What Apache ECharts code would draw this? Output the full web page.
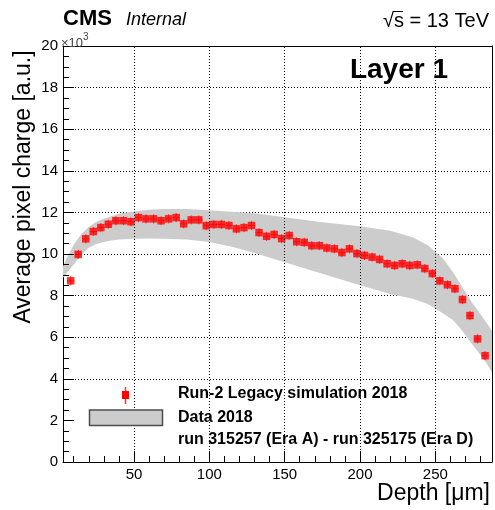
<!DOCTYPE html>
<html><head><meta charset="utf-8">
<script src="https://cdn.jsdelivr.net/npm/echarts@6/dist/echarts.min.js"></script>
<style>html,body{margin:0;padding:0;background:#fff}#c{width:495px;height:510px}</style>
</head><body><div id="c"></div>
<script>
// ---- data (charge in units of 10^3 a.u.) ----
const depth = [8,13,18,23,28,33,38,43,48,53,58,63,68,73,78,83,88,93,98,103,108,113,118,123,128,133,138,143,148,153,158,163,168,173,178,183,188,193,198,203,208,213,218,223,228,233,238,243,248,253,258,263,268,273,278,283];
const simCharge = [8.71,9.98,10.73,11.08,11.27,11.43,11.60,11.60,11.55,11.75,11.69,11.69,11.60,11.69,11.75,11.45,11.64,11.64,11.36,11.42,11.42,11.37,11.21,11.27,11.37,11.03,10.85,10.94,10.74,10.89,10.59,10.56,10.40,10.40,10.29,10.25,10.07,10.25,10.02,9.93,9.85,9.74,9.53,9.45,9.53,9.45,9.48,9.30,9.06,8.71,8.52,8.33,7.81,7.04,5.92,5.11];
const simErr = 0.22;     // vertical error half-size
const binHalf = 2.5;     // half bin width (um)
const bandDepth = [2.9,5,10,15,20,25,30,35,40,50,60,70,85,100,115,130,150,175,200,220,235,245,255,262,268,274,280,284,287.6];
const bandUpper = [9.4,9.75,10.45,10.95,11.3,11.55,11.7,11.82,11.93,12.05,12.13,12.16,12.16,12.1,12.03,11.96,11.77,11.53,11.34,11.12,10.8,10.42,9.8,9.1,8.4,7.7,7.1,6.7,6.3];
const bandLower = [8.86,9.05,9.5,9.95,10.3,10.48,10.58,10.65,10.7,10.73,10.74,10.73,10.7,10.58,10.35,10.05,9.6,9.05,8.5,8.08,7.85,7.6,7.15,6.8,6.3,5.7,5.15,4.75,4.3];
const xMajor = [50,100,150,200,250];
const xMinor = [10,20,30,40,60,70,80,90,110,120,130,140,160,170,180,190,210,220,230,240,260,270,280];
const xMin = 2.9, xMax = 287.6;
const yMin = 0, yMax = 20, yStep = 2;

const FONT = 'Liberation Sans, Arial, Helvetica, sans-serif';
const chart = echarts.init(document.getElementById('c'), null, {renderer:'canvas'});
const gridRect = {left:63, right:3, top:46, bottom:48, outerBoundsMode:'none'};

const option = {
  animation:false,
  textStyle:{fontFamily:FONT},
  grid:[Object.assign({}, gridRect), Object.assign({}, gridRect)],
  xAxis:[
    {type:'value', gridIndex:0, position:'bottom', min:xMin, max:xMax, z:5,
     axisLine:{show:true, onZero:false, lineStyle:{color:'#000', width:1}},
     axisTick:{show:true, inside:true, length:11, customValues:xMajor, lineStyle:{color:'#000'}},
     axisLabel:{show:true, customValues:xMajor, fontSize:15, color:'#000', margin:5, fontFamily:FONT},
     splitLine:{show:false}},
    {type:'value', gridIndex:1, position:'bottom', min:xMin, max:xMax, z:5,
     axisLine:{show:false},
     axisTick:{show:true, inside:true, length:6, customValues:xMinor, lineStyle:{color:'#000'}},
     axisLabel:{show:false}, splitLine:{show:false}},
    {type:'value', gridIndex:1, position:'top', min:xMin, max:xMax, z:5,
     axisLine:{show:true, onZero:false, lineStyle:{color:'#000', width:1}},
     axisTick:{show:false}, axisLabel:{show:false}, splitLine:{show:false}}
  ],
  yAxis:[
    {type:'value', gridIndex:0, position:'left', min:yMin, max:yMax, interval:yStep, z:0,
     axisLine:{show:true, onZero:false, lineStyle:{color:'#000', width:1}},
     axisTick:{show:false},
     axisLabel:{show:true, fontSize:15, color:'#000', margin:5, fontFamily:FONT},
     splitLine:{show:true, showMinLine:false, showMaxLine:false, lineStyle:{color:'#000', width:1, type:[1,2]}}},
    {type:'value', gridIndex:1, position:'left', min:yMin, max:yMax, interval:yStep, z:5,
     axisLine:{show:false},
     axisTick:{show:true, inside:true, length:11, lineStyle:{color:'#000'}},
     minorTick:{show:true, splitNumber:4, length:6, lineStyle:{color:'#000'}},
     axisLabel:{show:false}, splitLine:{show:false}},
    {type:'value', gridIndex:1, position:'right', min:yMin, max:yMax, interval:yStep, z:5,
     axisLine:{show:true, onZero:false, lineStyle:{color:'#000', width:1}},
     axisTick:{show:false}, axisLabel:{show:false}, splitLine:{show:false}}
  ],
  series:[
    { // vertical gridlines
      type:'line', xAxisIndex:0, yAxisIndex:0, z:1, data:[], silent:true,
      markLine:{silent:true, symbol:['none','none'], label:{show:false}, animation:false,
        lineStyle:{color:'#000', width:1, type:[1,2]},
        data: xMajor.map(v=>({xAxis:v}))}
    },
    { // data band
      type:'custom', xAxisIndex:0, yAxisIndex:0, z:2, silent:true, clip:true,
      data:[[bandDepth[0], bandUpper[0]]],
      renderItem:(params, api)=>{
        const pts=[];
        for(let i=0;i<bandDepth.length;i++) pts.push(api.coord([bandDepth[i], bandUpper[i]]));
        for(let i=bandDepth.length-1;i>=0;i--) pts.push(api.coord([bandDepth[i], bandLower[i]]));
        return {type:'polygon', shape:{points:pts}, style:{fill:'#cccccc', stroke:null}};
      }
    },
    { // error bars
      type:'custom', xAxisIndex:0, yAxisIndex:0, z:3, silent:true,
      data: depth.map((d,i)=>[d, simCharge[i], simErr, binHalf]),
      encode:{x:0, y:1},
      renderItem:(params, api)=>{
        const x=api.value(0), y=api.value(1), e=api.value(2), ex=api.value(3);
        const a=api.coord([x,y-e]), b=api.coord([x,y+e]);
        const c=api.coord([x-ex,y]), d=api.coord([x+ex,y]);
        return {type:'group', children:[
          {type:'line', shape:{x1:a[0],y1:a[1],x2:b[0],y2:b[1]}, style:{stroke:'#ff3030', lineWidth:1}},
          {type:'line', shape:{x1:c[0],y1:c[1],x2:d[0],y2:d[1]}, style:{stroke:'#ff3030', lineWidth:1}}
        ]};
      }
    },
    { // simulation markers
      type:'scatter', xAxisIndex:0, yAxisIndex:0, z:4, silent:true,
      symbol:'rect', symbolSize:7.5,
      itemStyle:{color:'#ff0000'},
      data: depth.map((d,i)=>[d, simCharge[i]])
    }
  ],
  graphic:[
    {type:'rect', z:1.5, shape:{x:64, y:382, width:426, height:80}, style:{fill:'#ffffff'}},
    {type:'text', z:10, left:63, top:8, style:{text:'CMS', font:'bold 22px '+FONT, fill:'#000'}},
    {type:'text', z:10, left:126, top:11, style:{text:'Internal', font:'italic 18px '+FONT, fill:'#000'}},
    {type:'text', z:10, x:489, y:21, style:{text:'√s = 13 TeV', font:'20px '+FONT, fill:'#000', align:'right', verticalAlign:'middle'}},
    {type:'line', z:10, shape:{x1:393, y1:11.5, x2:403, y2:11.5}, style:{stroke:'#000', lineWidth:1}},
    {type:'text', z:10, x:61, y:43, style:{text:'×10', font:'13px '+FONT, fill:'#444', verticalAlign:'middle'}},
    {type:'text', z:10, x:83, y:37, style:{text:'3', font:'10px '+FONT, fill:'#444', verticalAlign:'middle'}},
    {type:'text', z:10, x:448, y:70, style:{text:'Layer 1', font:'bold 28px '+FONT, fill:'#000', align:'right', verticalAlign:'middle'}},
    {type:'text', z:10, x:24, y:187, rotation:Math.PI/2, style:{text:'Average pixel charge [a.u.]', font:'23px '+FONT, fill:'#000', align:'center', verticalAlign:'middle'}},
    {type:'text', z:10, x:490, y:494, style:{text:'Depth [μm]', font:'23px '+FONT, fill:'#000', align:'right', verticalAlign:'middle'}},
    // legend
    {type:'line', z:10, shape:{x1:125.5, y1:387, x2:125.5, y2:404}, style:{stroke:'#ff3030', lineWidth:1.5}},
    {type:'rect', z:10, shape:{x:122, y:391, width:7, height:8}, style:{fill:'#ff0000'}},
    {type:'rect', z:10, shape:{x:89.5, y:410, width:73, height:15.5}, style:{fill:'#cccccc', stroke:'#4d4d4d', lineWidth:1.5}},
    {type:'text', z:10, x:178, y:394, style:{text:'Run-2 Legacy simulation 2018', font:'bold 16px '+FONT, fill:'#000', verticalAlign:'middle'}},
    {type:'text', z:10, x:178, y:418, style:{text:'Data 2018', font:'bold 16px '+FONT, fill:'#000', verticalAlign:'middle'}},
    {type:'text', z:10, x:178, y:440, style:{text:'run 315257 (Era A) - run 325175 (Era D)', font:'bold 16px '+FONT, fill:'#000', verticalAlign:'middle'}}
  ]
};
chart.setOption(option);
</script>
</body></html>
